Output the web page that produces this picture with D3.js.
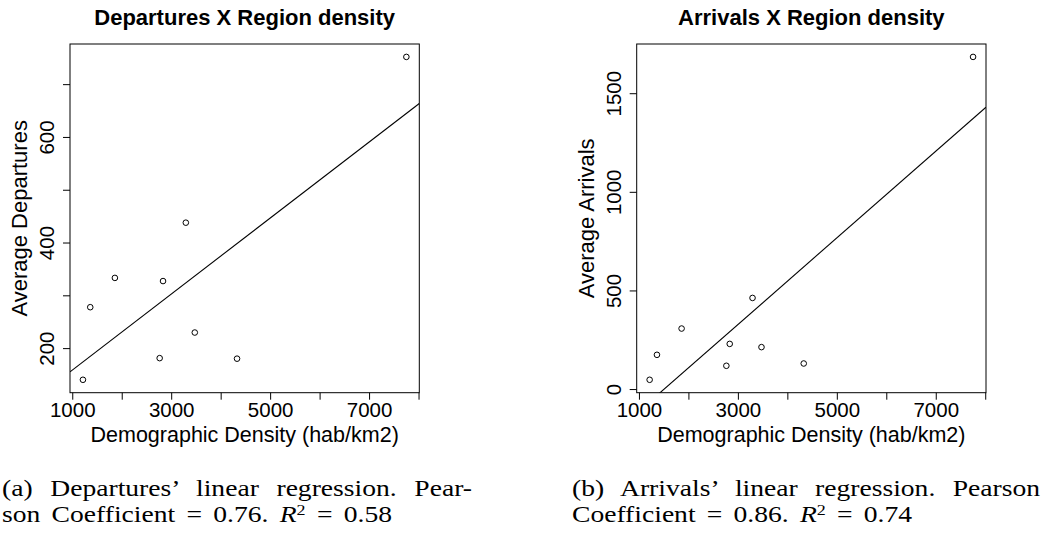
<!DOCTYPE html>
<html>
<head>
<meta charset="utf-8">
<script src="https://cdn.jsdelivr.net/npm/d3@7"></script>
<style>
  body { margin: 0; background: #fff; }
  svg { display: block; }
</style>
</head>
<body>
<script>
// Demographic density of each region (hab/km2)
const density    = [1216, 1364, 1862, 2767, 2835, 3296, 3477, 4331, 7754];
// Average departures and arrivals per region
const departures = [140, 277.5, 333, 181, 327, 437.6, 229.5, 180, 751.6];
const arrivals   = [47, 173.6, 306.8, 118, 229, 462, 212.6, 129.6, 1684];

// Axis ticks (labels only where they fit)
const xTicks        = [1000, 2000, 3000, 4000, 5000, 6000, 7000, 8000];
const xTickLabels   = [1000, 3000, 5000, 7000];
const depTicks      = [200, 300, 400, 500, 600, 700];
const depTickLabels = [200, 400, 600];
const arrTicks      = [0, 500, 1000, 1500];
const arrTickLabels = [0, 500, 1000, 1500];

const xTitle = "Demographic Density (hab/km2)";

const W = 1042, H = 539;
const sans = "'Liberation Sans', Arial, Helvetica, sans-serif";
const serif = "'Liberation Serif', 'Times New Roman', serif";
const fs = 22;        // titles
const tickFs = 20.5;  // tick labels

const svg = d3.select("body").append("svg")
  .attr("width", W).attr("height", H)
  .attr("viewBox", `0 0 ${W} ${H}`);

// R-style padded range: data extent widened by 4% on each side
function padded(values) {
  const [lo, hi] = d3.extent(values);
  const d = (hi - lo) * 0.04;
  return [lo - d, hi + d];
}

// Least-squares fit y = a + b x
function fit(xs, ys) {
  const mx = d3.mean(xs), my = d3.mean(ys);
  let sxy = 0, sxx = 0;
  xs.forEach((x, i) => { sxy += (x - mx) * (ys[i] - my); sxx += (x - mx) * (x - mx); });
  const b = sxy / sxx;
  return { a: my - b * mx, b };
}

function panel(cfg) {
  const w = 349.3, h = 348.7;
  const g = svg.append("g").attr("transform", `translate(${cfg.left},${cfg.top})`);

  const x = d3.scaleLinear().domain(padded(density)).range([0, w]);
  const y = d3.scaleLinear().domain(padded(cfg.values)).range([h, 0]);

  // clip region for the fitted line
  g.append("clipPath").attr("id", cfg.id + "-clip")
    .append("rect").attr("width", w).attr("height", h);

  // bottom axis
  const xa = g.append("g").attr("transform", `translate(0,${h})`)
    .call(d3.axisBottom(x).tickValues(xTicks).tickSize(7)
      .tickFormat(d => xTickLabels.includes(d) ? d : ""));
  xa.select(".domain").remove();
  xa.selectAll("line").attr("stroke", "#000").attr("stroke-width", 1);
  xa.selectAll("text")
    .attr("y", 24.5).attr("dy", 0)
    .attr("font-family", sans).attr("font-size", tickFs).attr("fill", "#000");

  // left axis with labels parallel to the axis
  const ya = g.append("g")
    .call(d3.axisLeft(y).tickValues(cfg.ticks).tickSize(7)
      .tickFormat(d => cfg.tickLabels.includes(d) ? d : ""));
  ya.select(".domain").remove();
  ya.selectAll("line").attr("stroke", "#000").attr("stroke-width", 1);
  ya.selectAll("text")
    .attr("x", null).attr("dy", 0)
    .attr("text-anchor", "middle")
    .attr("transform", "translate(-16,0) rotate(-90)")
    .attr("font-family", sans).attr("font-size", tickFs).attr("fill", "#000");

  // fitted regression line
  const m = fit(density, cfg.values);
  const [x0, x1] = x.domain();
  g.append("line")
    .attr("clip-path", `url(#${cfg.id}-clip)`)
    .attr("x1", x(x0)).attr("y1", y(m.a + m.b * x0))
    .attr("x2", x(x1)).attr("y2", y(m.a + m.b * x1))
    .attr("stroke", "#000").attr("stroke-width", 1.1);

  // observations
  g.selectAll("circle.pt").data(density).join("circle")
    .attr("class", "pt")
    .attr("cx", d => x(d))
    .attr("cy", (d, i) => y(cfg.values[i]))
    .attr("r", 2.8)
    .attr("fill", "none").attr("stroke", "#000").attr("stroke-width", 1);

  // plot frame
  g.append("rect").attr("width", w).attr("height", h)
    .attr("fill", "none").attr("stroke", "#000").attr("stroke-width", 1);

  // titles
  g.append("text").attr("x", w / 2).attr("y", -19)
    .attr("text-anchor", "middle")
    .attr("font-family", sans).attr("font-weight", "bold").attr("font-size", fs)
    .text(cfg.title);
  g.append("text").attr("x", w / 2).attr("y", h + 49)
    .attr("text-anchor", "middle")
    .attr("font-family", sans).attr("font-size", 21.5)
    .text(xTitle);
  g.append("text")
    .attr("transform", `translate(-43,${h / 2}) rotate(-90)`)
    .attr("text-anchor", "middle")
    .attr("font-family", sans).attr("font-size", fs)
    .text(cfg.yTitle);
}

panel({ id: "dep", left: 70, top: 44, values: departures,
        ticks: depTicks, tickLabels: depTickLabels,
        title: "Departures X Region density", yTitle: "Average Departures" });
panel({ id: "arr", left: 636.7, top: 44, values: arrivals,
        ticks: arrTicks, tickLabels: arrTickLabels,
        title: "Arrivals X Region density", yTitle: "Average Arrivals" });

// Subfigure captions; each line is stretched to its width by widening the spaces
const captions = [
  { x: 2, lines: [
      { y: 496, width: 470, parts: [["(a) Departures\u2019 linear regression. Pear-"]] },
      { y: 521.5, width: 390, parts: [["son Coefficient = 0.76. "], ["R", "it"], ["2", "sup"], [" = 0.58"]] }
  ]},
  { x: 572, lines: [
      { y: 496, width: 468, parts: [["(b) Arrivals\u2019 linear regression. Pearson"]] },
      { y: 521.5, width: 340, parts: [["Coefficient = 0.86. "], ["R", "it"], ["2", "sup"], [" = 0.74"]] }
  ]}
];

const sx = 1.2; // the caption face is set wide
captions.forEach(c => {
  c.lines.forEach(l => {
    const t = svg.append("text")
      .attr("transform", `translate(${c.x},${l.y}) scale(${sx},1)`)
      .attr("font-family", serif).attr("font-size", 23).attr("fill", "#000");
    l.parts.forEach(([s, kind]) => {
      const ts = t.append("tspan").text(s);
      if (kind === "it") ts.attr("font-style", "italic");
      if (kind === "sup") ts.attr("font-size", 15).attr("baseline-shift", "6.5");
    });
    const natural = t.node().getComputedTextLength();
    const spaces = l.parts.map(p => p[0]).join("").split(" ").length - 1;
    if (spaces > 0) t.attr("word-spacing", Math.max(0, (l.width / sx - natural) / spaces));
  });
});
</script>
</body>
</html>
